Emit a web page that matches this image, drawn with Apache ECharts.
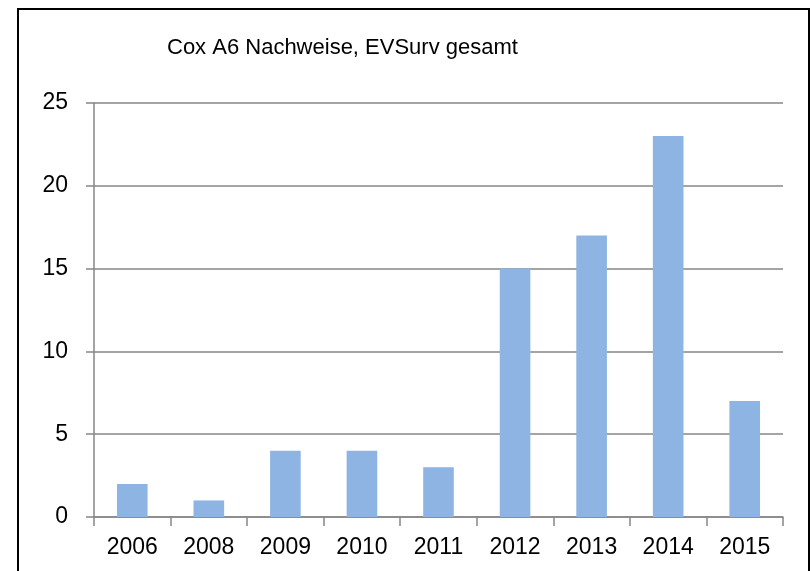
<!DOCTYPE html>
<html>
<head>
<meta charset="utf-8">
<script src="https://cdn.jsdelivr.net/npm/echarts@6/dist/echarts.min.js"></script>
<style>
  html, body { margin: 0; padding: 0; background: #fff; }
  #chart { width: 811px; height: 571px; }
</style>
</head>
<body>
<div id="chart"></div>
<script>
// Daten
var years = ['2006', '2008', '2009', '2010', '2011', '2012', '2013', '2014', '2015'];
var counts = [2, 1, 4, 4, 3, 15, 17, 23, 7];
var yTicks = [0, 5, 10, 15, 20, 25];

var chart = echarts.init(document.getElementById('chart'));

var option = {
  animation: false,
  textStyle: { fontFamily: 'Liberation Sans' },
  // Rahmen um das ganze Diagramm
  graphic: [{
    type: 'rect',
    shape: { x: 18, y: 9, width: 791, height: 600 },
    style: { fill: 'none', stroke: '#000', lineWidth: 2 }
  }],
  title: {
    text: 'Cox A6 Nachweise, EVSurv gesamt',
    left: 162,
    top: 32,
    textStyle: { fontSize: 22, fontWeight: 'normal', color: '#000', fontFamily: 'Liberation Sans' }
  },
  grid: { left: 94, right: 28, top: 103, bottom: 54 },
  xAxis: {
    type: 'category',
    data: years,
    axisLine: { lineStyle: { color: '#868686', width: 1.5 } },
    axisTick: { show: true, length: 9, lineStyle: { color: '#868686', width: 1.5 } },
    axisLabel: { color: '#000', fontSize: 23, margin: 19 }
  },
  yAxis: {
    type: 'value',
    min: yTicks[0],
    max: yTicks[yTicks.length - 1],
    interval: 5,
    axisLine: { show: true, lineStyle: { color: '#868686', width: 1.5 } },
    axisTick: { show: true, length: 8, lineStyle: { color: '#868686', width: 1.5 } },
    axisLabel: { color: '#000', fontSize: 23, margin: 26 },
    splitLine: { lineStyle: { color: '#868686', width: 1.5 } }
  },
  series: [{
    type: 'bar',
    data: counts,
    barWidth: '40%',
    itemStyle: { color: '#8EB4E3' }
  }]
};

chart.setOption(option);
</script>
</body>
</html>
